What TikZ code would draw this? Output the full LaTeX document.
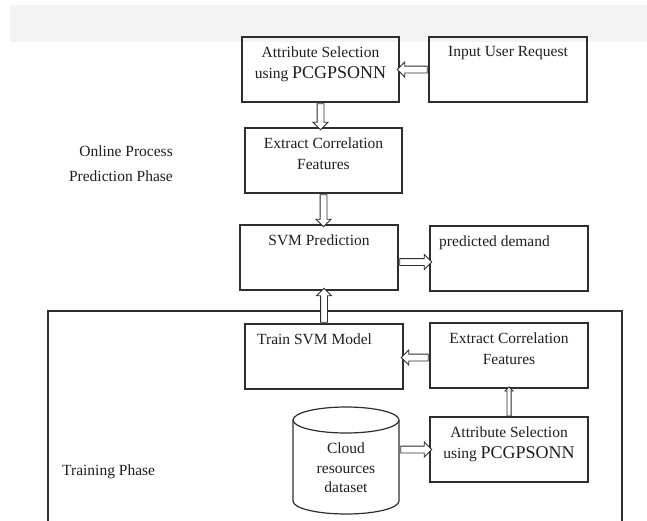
\documentclass[tikz,border=0pt]{standalone}
\usepackage{fontspec}
\setmainfont{Liberation Serif}
\usetikzlibrary{shapes.arrows,calc}
\definecolor{ln}{HTML}{2E2E2E}
\definecolor{tx}{HTML}{1E1E1E}
\definecolor{band}{HTML}{F4F4F4}
\newcommand\blockarrow[3][]{%
  \path let \p1=(#2), \p2=(#3), \n1={veclen(\x2-\x1,\y2-\y1)} in
    (\p1) -- node[blk, minimum height=\n1, #1] {} (\p2);}
\tikzset{
  box/.style={draw=ln, line width=1.2pt, anchor=north west, inner sep=0pt, outer sep=0pt},
  lbl/.style={anchor=north, yshift=-9.5pt, align=center, inner sep=0pt, text=tx,
    font=\fontsize{15.5}{21}\selectfont},
  lbll/.style={anchor=north west, yshift=-9.5pt, align=left, inner sep=0pt, text=tx,
    font=\fontsize{15.5}{21}\selectfont},
  blk/.style={single arrow, draw=ln, fill=white, line width=0.9pt, inner sep=3pt,
    outer sep=0pt, minimum width=0pt, single arrow head extend=4pt,
    single arrow tip angle=90, single arrow head indent=0pt, sloped, allow upside down},
  thinblk/.style={inner sep=1.6pt, single arrow head extend=2pt},
  plain/.style={inner sep=0pt, text=tx, font=\fontsize{15.5}{24.5}\selectfont}
}
\newcommand\bigfnt{\fontsize{18}{21}\selectfont}
\begin{document}
\begin{tikzpicture}[x=1pt, y=-1pt]
\useasboundingbox (0,0) rectangle (647,520);
% top band
\fill[band] (10,5) rectangle (647,42);
% training frame
\coordinate (fbl) at (48,522);
\coordinate (ftl) at (48,311);
\coordinate (ftr) at (622,311);
\coordinate (fbr) at (622,522);
\draw[ln, line width=1.2pt] (fbl) -- (ftl) -- (ftr) -- (fbr);

% online phase boxes
\node[box, minimum width=157pt, minimum height=65pt,
  label={[lbl]north:{Attribute Selection\\using {\bigfnt PCGPSONN}}}] (a) at (242,37) {};
\node[box, minimum width=158pt, minimum height=65pt,
  label={[lbl]north:{Input User Request}}] (inp) at (429,37) {};
\node[box, minimum width=157pt, minimum height=65pt,
  label={[lbl]north:{Extract Correlation\\Features}}] (e) at (245,128) {};
\node[box, minimum width=158pt, minimum height=65pt,
  label={[lbl]north:{SVM Prediction}}] (svm) at (240,225) {};
\node[box, minimum width=158pt, minimum height=65pt,
  label={[lbll, xshift=9pt]north west:{predicted demand}}] (pd) at (430,226) {};

% training phase boxes
\node[box, minimum width=158pt, minimum height=65pt,
  label={[lbll, xshift=12pt]north west:{Train SVM Model}}] (train) at (245,324) {};
\node[box, minimum width=158pt, minimum height=65pt,
  label={[lbl]north:{Extract Correlation\\Features}}] (e2) at (430,323) {};
\node[box, minimum width=158pt, minimum height=65pt,
  label={[lbl]north:{Attribute Selection\\using {\bigfnt PCGPSONN}}}] (a2) at (430,417) {};

% cylinder
\node[anchor=north west, minimum width=106pt, minimum height=107pt, inner sep=0pt, outer sep=0pt,
  label={[lbl, yshift=-25.9pt, font=\fontsize{15.5}{19.7}\selectfont]north:{Cloud\\resources\\dataset}}]
  (cyl) at (293,407) {};
\draw[ln, line width=1.2pt]
  ([yshift=-13pt]cyl.north west) -- ([yshift=13pt]cyl.south west)
  arc[start angle=180, end angle=360, x radius=53pt, y radius=13pt]
  -- ([yshift=-13pt]cyl.north east);
\draw[ln, line width=1.2pt] ([yshift=-13pt]cyl.north) ellipse [x radius=53pt, y radius=13pt];

% side texts
\node[plain, align=right, anchor=north east] (online) at (173,146) {Online Process\\Prediction Phase};
\node[plain, anchor=base west] (trainph) at (62,475) {Training Phase};

% arrows
\blockarrow{inp.west}{a.east}
\blockarrow{a.south}{a.south |- e.north}
\blockarrow{e.south}{e.south |- svm.north}
\blockarrow{[yshift=-4.5pt]svm.east}{[yshift=-4.5pt]svm.east -| pd.west}
\blockarrow{train.north}{train.north |- svm.south}
\blockarrow{[yshift=-2pt]e2.west}{[yshift=-2pt]e2.west -| train.east}
\blockarrow[thinblk]{a2.north}{a2.north |- e2.south}
\blockarrow{cyl.east |- a2.west}{a2.west}
\end{tikzpicture}
\end{document}
